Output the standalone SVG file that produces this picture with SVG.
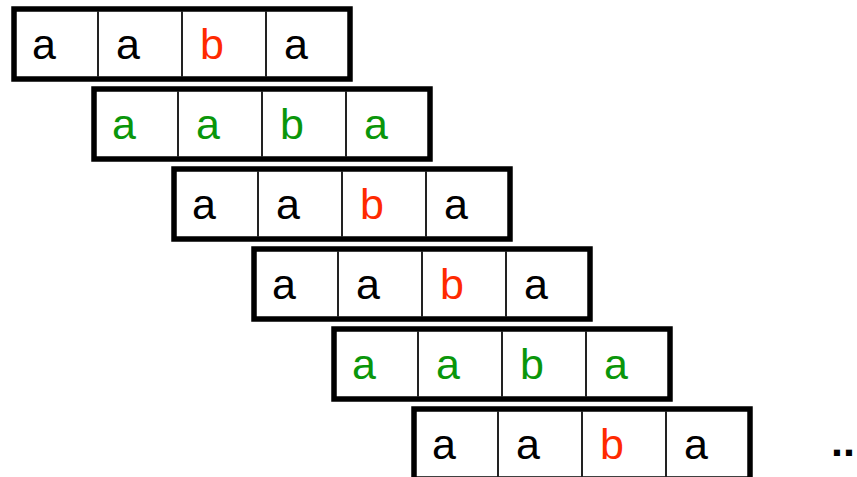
<svg xmlns="http://www.w3.org/2000/svg" width="857" height="477" viewBox="0 0 857 477">
<style>
.box{fill:#fff;stroke:#000;stroke-width:5.5}
.div{stroke:#222;stroke-width:2}
text{font-family:"Liberation Sans",Arial,sans-serif;font-size:43px;text-anchor:middle}
.k{fill:#000}.r{fill:#ff2a00}.g{fill:#0a960a}
</style>
<defs>
<g id="cells">
<rect class="box" x="0" y="0" width="336" height="70"/>
<line class="div" x1="84" y1="2" x2="84" y2="68"/>
<line class="div" x1="168" y1="2" x2="168" y2="68"/>
<line class="div" x1="252" y1="2" x2="252" y2="68"/>
</g>
</defs>
<rect width="857" height="477" fill="#fff"/>
<g id="row1" transform="translate(14,9)"><use href="#cells"/><text class="k" x="30" y="50">a</text><text class="k" x="114" y="50">a</text><text class="r" x="198" y="50">b</text><text class="k" x="282" y="50">a</text></g>
<g id="row2" transform="translate(94,89)"><use href="#cells"/><text class="g" x="30" y="50">a</text><text class="g" x="114" y="50">a</text><text class="g" x="198" y="50">b</text><text class="g" x="282" y="50">a</text></g>
<g id="row3" transform="translate(174,169)"><use href="#cells"/><text class="k" x="30" y="50">a</text><text class="k" x="114" y="50">a</text><text class="r" x="198" y="50">b</text><text class="k" x="282" y="50">a</text></g>
<g id="row4" transform="translate(254,249)"><use href="#cells"/><text class="k" x="30" y="50">a</text><text class="k" x="114" y="50">a</text><text class="r" x="198" y="50">b</text><text class="k" x="282" y="50">a</text></g>
<g id="row5" transform="translate(334,329)"><use href="#cells"/><text class="g" x="30" y="50">a</text><text class="g" x="114" y="50">a</text><text class="g" x="198" y="50">b</text><text class="g" x="282" y="50">a</text></g>
<g id="row6" transform="translate(414,409)"><use href="#cells"/><text class="k" x="30" y="50">a</text><text class="k" x="114" y="50">a</text><text class="r" x="198" y="50">b</text><text class="k" x="282" y="50">a</text></g>
<g id="connectors"/>
<text x="843" y="456" style="font-weight:bold" class="k">..</text>
</svg>
